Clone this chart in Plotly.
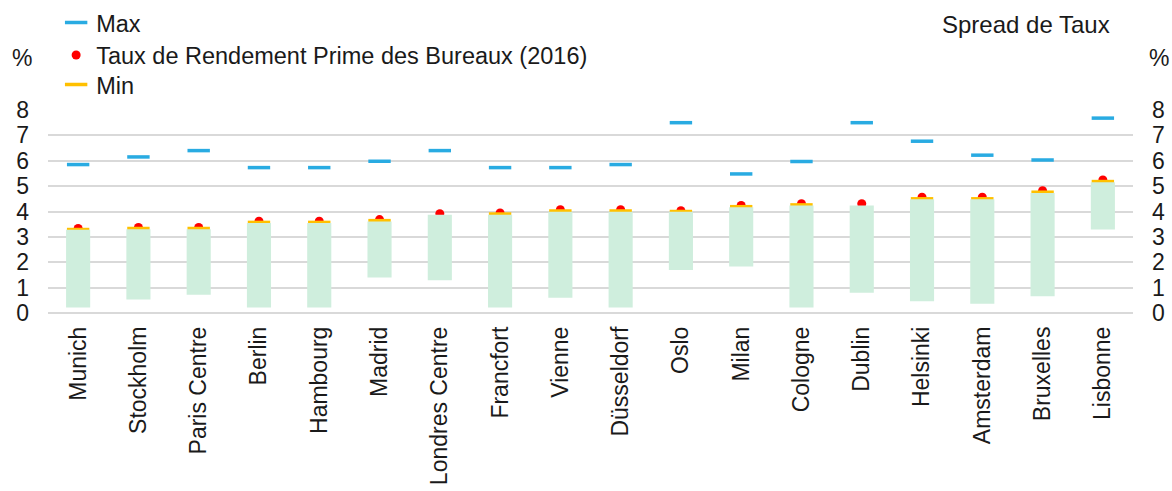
import plotly.graph_objects as go

cities = [
    "Munich", "Stockholm", "Paris Centre", "Berlin", "Hambourg", "Madrid",
    "Londres Centre", "Francfort", "Vienne", "Düsseldorf", "Oslo", "Milan",
    "Cologne", "Dublin", "Helsinki", "Amsterdam", "Bruxelles", "Lisbonne",
]
max_yield = [5.85, 6.15, 6.4, 5.73, 5.73, 5.98, 6.4, 5.73, 5.73, 5.85,
             7.5, 5.48, 5.97, 7.5, 6.77, 6.22, 6.03, 7.68]
prime_yield = [3.33, 3.37, 3.37, 3.62, 3.62, 3.68, 3.91, 3.94, 4.07, 4.07,
               4.03, 4.24, 4.31, 4.31, 4.56, 4.56, 4.82, 5.24]
min_yield = [3.29, 3.33, 3.33, 3.57, 3.57, 3.64, 3.45, 3.9, 4.02, 4.02,
             4.0, 4.19, 4.26, 3.75, 4.5, 4.5, 4.76, 5.18]
spread_low = [0.22, 0.53, 0.72, 0.22, 0.22, 1.4, 1.29, 0.22, 0.6, 0.22,
              1.69, 1.83, 0.22, 0.8, 0.46, 0.36, 0.66, 3.29]
spread_high = [3.28, 3.3, 3.3, 3.55, 3.55, 3.61, 3.87, 3.87, 3.99, 3.99,
               3.99, 4.17, 4.24, 4.24, 4.48, 4.48, 4.73, 5.15]

FONT = "Liberation Sans, Arial, sans-serif"
TXT = "#1a1a1a"

fig = go.Figure()

# spread as floating bars (right axis)
fig.add_trace(go.Bar(
    x=cities,
    y=[h - l for h, l in zip(spread_high, spread_low)],
    base=spread_low,
    width=0.4,
    marker=dict(color="#cfeedd", line=dict(width=0)),
    name="Spread de Taux",
    showlegend=False,
    yaxis="y2",
))

fig.add_trace(go.Scatter(
    x=cities, y=max_yield, mode="markers", name="Max",
    marker=dict(symbol="line-ew", size=16, line=dict(color="#29abe2", width=3.5)),
    legend="legend",
))
fig.add_trace(go.Scatter(
    x=cities, y=prime_yield, mode="markers",
    name="Taux de Rendement Prime des Bureaux (2016)",
    marker=dict(symbol="circle", size=9, color="#ff0000"),
    legend="legend2",
))
fig.add_trace(go.Scatter(
    x=cities, y=min_yield, mode="markers", name="Min",
    marker=dict(symbol="line-ew", size=16, line=dict(color="#ffc000", width=3.5)),
    legend="legend3",
))

legend_common = dict(
    x=0.0075, xanchor="left", yanchor="middle",
    font=dict(family=FONT, size=23.5, color=TXT),
    bgcolor="rgba(0,0,0,0)", itemwidth=30,
)

fig.update_layout(
    width=1172, height=491,
    margin=dict(l=48, r=39, t=110, b=178, autoexpand=False),
    paper_bgcolor="white", plot_bgcolor="white",
    font=dict(family=FONT, color=TXT),
    xaxis=dict(
        range=[-0.5, len(cities) - 0.5],
        tickangle=-90, tickfont=dict(size=23, color=TXT),
        showgrid=False, showline=False, ticks="",
        ticklabelstandoff=8, automargin=False,
    ),
    yaxis=dict(
        range=[0, 8], dtick=1, tickfont=dict(size=23, color=TXT),
        gridcolor="#d9d9d9", gridwidth=1.5,
        zeroline=True, zerolinecolor="#d9d9d9", zerolinewidth=1.5,
        showline=False, ticks="", ticklabelstandoff=18, automargin=False,
    ),
    yaxis2=dict(
        range=[0, 8], dtick=1, overlaying="y", side="right",
        tickfont=dict(size=23, color=TXT), showgrid=False,
        zeroline=False, showline=False, ticks="",
        ticklabelstandoff=18, automargin=False,
    ),
    legend=dict(y=1.43, **legend_common),
    legend2=dict(y=1.27, **legend_common),
    legend3=dict(y=1.125, **legend_common),
    annotations=[
        dict(text="%", xref="paper", yref="paper", x=-0.024, y=1.256,
             xanchor="center", yanchor="middle", showarrow=False,
             font=dict(size=23, color=TXT)),
        dict(text="%", xref="paper", yref="paper", x=1.024, y=1.256,
             xanchor="center", yanchor="middle", showarrow=False,
             font=dict(size=23, color=TXT)),
        dict(text="Spread de Taux", xref="paper", yref="paper", x=0.901, y=1.423,
             xanchor="center", yanchor="middle", showarrow=False,
             font=dict(size=24, color=TXT)),
    ],
)

# drop the default page margin so the figure sits at the window corner
fig.write_html(
    "out.html",
    config={"displayModeBar": False},
    post_script="document.body.style.margin = '0';",
)
